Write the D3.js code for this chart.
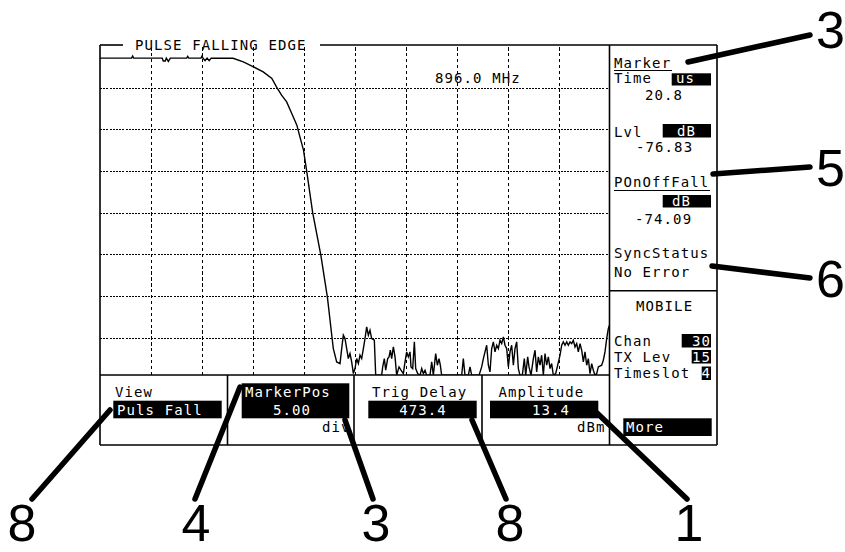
<!DOCTYPE html>
<html>
<head>
<meta charset="utf-8">
<script src="https://cdn.jsdelivr.net/npm/d3@7"></script>
<style>
  html, body { margin: 0; padding: 0; background: #fff; }
  svg { display: block; }
  .mono { font-family: "DejaVu Sans Mono", monospace; font-size: 14px; letter-spacing: 1.1px; }
  .callout { font-family: "Liberation Sans", Arial, sans-serif; font-size: 52px; }
</style>
</head>
<body>
<svg id="chart" width="845" height="552"></svg>
<script>
// ---------------- DATA ----------------
const titleText = "PULSE FALLING EDGE";
const frequencyText = "896.0 MHz";
const gridXDivs = [1, 2, 3, 4, 5, 6, 7, 8, 9];          // time divisions
const gridYLevels = [-10, -20, -30, -40, -50, -60, -70];  // dB
// falling edge of pulse : [division, dB]
const edgeTrace = [
  [0, -2.9], [0.4, -2.9], [0.62, -2.9], [0.64, -2.4], [0.66, -2.9], [1.22, -2.9], [1.24, -3.6], [1.28, -3.6],
  [1.3, -2.9], [1.34, -3.7], [1.38, -2.9], [1.5, -2.9], [1.7, -2.9], [1.72, -2.5], [1.74, -2.9], [1.98, -2.9],
  [2.0, -2.4], [2.02, -2.9], [2.06, -3.5], [2.1, -2.9], [2.14, -3.5], [2.18, -2.9], [2.61, -2.95],
  [2.81, -3.8], [3.01, -5.0], [3.2, -6.2], [3.37, -7.8], [3.46, -9.8], [3.56, -11.8], [3.66, -13.4],
  [3.76, -16.2], [3.86, -19.0], [3.92, -21.8], [3.99, -25.0], [4.05, -29.8], [4.17, -40.0], [4.33, -50.2],
  [4.46, -60.4], [4.55, -70.0], [4.575, -72.6]
];
// noise floor after the edge : [division, dB]
const noiseTrace = [
  [4.641, -75.8], [4.706, -76.2], [4.739, -72.6], [4.771, -69.4], [4.804, -70.2], [4.837, -72.6], [4.869, -75.0],
  [4.902, -73.8], [4.935, -75.8], [4.968, -78.6], [5.0, -77.4], [5.033, -75.0], [5.066, -76.2], [5.098, -74.2],
  [5.131, -75.0], [5.164, -72.6], [5.196, -70.2], [5.229, -67.4], [5.262, -69.4], [5.294, -68.2], [5.327, -70.2],
  [5.379, -70.6], [5.406, -79.0], [5.523, -79.0], [5.543, -77.0], [5.575, -75.0], [5.602, -77.8], [5.641, -75.0],
  [5.667, -74.6], [5.693, -73.0], [5.719, -75.0], [5.752, -72.2], [5.785, -74.6], [5.817, -79.0], [5.863, -77.0],
  [5.902, -77.8], [5.948, -78.6], [5.981, -75.8], [6.013, -73.4], [6.046, -74.6], [6.079, -73.4], [6.098, -77.0],
  [6.131, -77.4], [6.164, -71.0], [6.19, -77.4], [6.229, -78.6], [6.275, -79.0], [6.308, -77.4], [6.34, -78.6],
  [6.373, -77.8], [6.405, -79.0], [6.471, -79.0], [6.504, -75.8], [6.536, -79.0], [6.582, -73.8], [6.615, -76.6],
  [6.647, -75.0], [6.673, -76.6], [6.699, -79.0], [7.092, -79.0], [7.124, -75.0], [7.157, -79.0], [7.222, -79.0],
  [7.255, -77.0], [7.288, -79.0], [7.432, -79.0], [7.484, -77.0], [7.517, -75.0], [7.549, -73.4], [7.582, -71.8],
  [7.615, -76.6], [7.647, -78.2], [7.68, -72.6], [7.713, -71.0], [7.745, -73.4], [7.778, -71.8], [7.811, -72.6],
  [7.843, -70.6], [7.876, -71.4], [7.909, -69.8], [7.941, -71.8], [7.974, -72.6], [8.007, -77.0], [8.039, -73.4],
  [8.072, -71.8], [8.105, -76.6], [8.137, -72.6], [8.17, -71.0], [8.203, -77.4], [8.235, -79.0], [8.281, -79.0],
  [8.32, -75.0], [8.347, -79.0], [8.386, -74.6], [8.412, -77.0], [8.451, -79.0], [8.497, -75.0], [8.53, -73.0],
  [8.562, -78.2], [8.595, -74.6], [8.628, -76.6], [8.66, -74.2], [8.693, -79.0], [8.726, -73.8], [8.758, -76.6],
  [8.791, -74.6], [8.824, -77.4], [8.856, -76.2], [8.889, -79.0], [8.935, -78.6], [8.974, -76.6], [9.02, -74.2],
  [9.053, -71.8], [9.085, -71.0], [9.118, -71.8], [9.151, -71.0], [9.183, -71.8], [9.216, -71.0], [9.249, -71.4],
  [9.281, -70.6], [9.314, -72.2], [9.347, -71.4], [9.379, -73.4], [9.412, -71.4], [9.445, -73.0], [9.477, -75.8],
  [9.51, -73.4], [9.543, -76.6], [9.575, -75.0], [9.608, -78.6], [9.641, -76.2], [9.673, -77.8], [9.706, -79.0],
  [9.739, -78.6], [9.771, -77.0], [9.837, -76.6], [9.869, -75.4], [9.902, -73.4], [9.935, -70.2], [9.967, -67.8],
  [9.99, -67.0]
];
const markerDiv = 5.00;
const markerLevel = -76.83;
const markerTimeText = "20.8";
const markerLevelText = "-76.83";
const pOnOffFallText = "-74.09";
const softkeyLabels = ["View", "MarkerPos", "Trig Delay", "Amplitude"];
const softkeyValues = ["Puls Fall", "5.00", "473.4", "13.4"];
const softkeyUnits = ["", "div", "", "dBm"];
const mobileLabels = ["Chan", "TX Lev", "Timeslot"];
const mobileValues = ["30", "15", "4"];
const calloutLabels = ["3", "5", "6", "8", "4", "3", "8", "1"];

// ---------------- LAYOUT ----------------
const svg = d3.select("#chart");
const L = 100, R = 609.5, T = 45, B = 375, PR = 717, SB = 445;
const x = d3.scaleLinear().domain([0, 10]).range([100, 610]);
const y = d3.scaleLinear().domain([0, -80]).range([46, 379.4]);

svg.append("defs").append("clipPath").attr("id", "plotclip")
  .append("rect").attr("x", L).attr("y", T).attr("width", R - L).attr("height", B - T);

// grid via axes
const gx = svg.append("g").attr("transform", `translate(0,${B})`)
  .call(d3.axisBottom(x).tickValues(gridXDivs).tickSize(-(B - T)).tickFormat(""));
gx.select(".domain").remove();
gx.selectAll(".tick line").attr("stroke", "#000").attr("stroke-width", 1)
  .attr("stroke-dasharray", "3.3,2.6").attr("shape-rendering", "crispEdges");

const gy = svg.append("g").attr("transform", `translate(${L},0)`)
  .call(d3.axisLeft(y).tickValues(gridYLevels).tickSize(-(R - L)).tickFormat(""));
gy.select(".domain").remove();
gy.selectAll(".tick line").attr("stroke", "#000").attr("stroke-width", 1)
  .attr("stroke-dasharray", "2,1.2").attr("shape-rendering", "crispEdges");

// trace
const line = d3.line().x(d => x(d[0])).y(d => y(d[1]));
svg.append("path").attr("clip-path", "url(#plotclip)")
  .datum(edgeTrace.concat(noiseTrace))
  .attr("d", line).attr("fill", "none").attr("stroke", "#000").attr("stroke-width", 1.4)
  .attr("stroke-linejoin", "miter");

// marker
svg.append("path").attr("clip-path", "url(#plotclip)")
  .attr("d", d3.symbol(d3.symbolDiamond, 22)())
  .attr("transform", `translate(${x(markerDiv)},${y(markerLevel) + 4})`)
  .attr("fill", "#000");

// frames
const frame = svg.append("g").attr("stroke", "#000").attr("stroke-width", 1.6).attr("fill", "none");
const seg = (x1, y1, x2, y2) => frame.append("line").attr("x1", x1).attr("y1", y1).attr("x2", x2).attr("y2", y2);
seg(L, T, L, SB);
seg(L, SB, PR, SB);
seg(PR, T, PR, SB);
seg(L, T, 123, T);
seg(320, T, PR, T);
seg(R, T, R, SB);
seg(L, B, R, B);
seg(227.5, B, 227.5, SB);
seg(354, B, 354, SB);
seg(482, B, 482, SB);
seg(R, 290.7, PR, 290.7);

// text helpers
const txt = (s, tx, ty, opts = {}) => svg.append("text").attr("class", "mono")
  .attr("x", tx).attr("y", ty).attr("fill", opts.fill || "#000")
  .attr("text-anchor", opts.anchor || "start").text(s);
const box = (x1, y1, x2, y2) => svg.append("rect").attr("x", x1).attr("y", y1)
  .attr("width", x2 - x1).attr("height", y2 - y1).attr("fill", "#000");

txt(titleText, 135, 49.5);
txt(frequencyText, 435, 83);

// right panel
txt("Marker", 614, 67.5);
svg.append("line").attr("x1", 614).attr("x2", 672).attr("y1", 70.5).attr("y2", 70.5).attr("stroke", "#000").attr("stroke-width", 1.2);
txt("Time", 614, 83);
box(671.7, 73.3, 711, 85.5); txt("us", 676, 83, { fill: "#fff" });
txt(markerTimeText, 645, 100);
txt("Lvl", 614, 136.5);
box(662.7, 124, 711, 137.5); txt("dB", 677, 135.5, { fill: "#fff" });
txt(markerLevelText, 636, 151.5);
txt("POnOffFall", 614, 186.5);
svg.append("line").attr("x1", 614).attr("x2", 710).attr("y1", 190.5).attr("y2", 190.5).attr("stroke", "#000").attr("stroke-width", 1.2);
box(662.7, 195, 711, 207.5); txt("dB", 672, 205.5, { fill: "#fff" });
txt(pOnOffFallText, 635, 223.5);
txt("SyncStatus", 614, 258);
txt("No Error", 614, 276.5);
txt("MOBILE", 636, 311);
const mobBase = [345.5, 361.5, 378];
const mobBox = [[681.7, 334], [691.7, 350], [701.7, 366.5]];
mobileLabels.forEach((s, i) => {
  txt(s, 614, mobBase[i]);
  box(mobBox[i][0], mobBox[i][1], 711, mobBox[i][1] + 13.5);
  txt(mobileValues[i], 711, mobBase[i], { fill: "#fff", anchor: "end" });
});
box(623.3, 418.3, 711.7, 436); txt("More", 626, 432, { fill: "#fff" });

// softkeys
txt(softkeyLabels[0], 115, 396.5);
box(113.3, 400.7, 221.7, 418.3); txt(softkeyValues[0], 117, 414.5, { fill: "#fff" });
box(241.7, 383.3, 349.3, 418.3);
txt(softkeyLabels[1], 245, 396.5, { fill: "#fff" });
txt(softkeyValues[1], 292, 414.5, { fill: "#fff", anchor: "middle" });
txt(softkeyUnits[1], 322, 431.5);
txt(softkeyLabels[2], 372, 396.5);
box(368.3, 400.7, 476.7, 418.3); txt(softkeyValues[2], 423, 414.5, { fill: "#fff", anchor: "middle" });
txt(softkeyLabels[3], 498.5, 396.5);
box(490, 400.7, 598.3, 418.3); txt(softkeyValues[3], 551, 414.5, { fill: "#fff", anchor: "middle" });
txt(softkeyUnits[3], 577, 431.5);

// callouts
const calloutLines = [
  [688, 62, 810, 35], [713, 174, 810, 167], [712, 266, 810, 278],
  [110, 410, 32, 499], [240, 387, 195, 499], [345, 420, 373, 499], [472, 420, 506, 499], [597, 413, 687, 499]
];
const calloutPos = [
  [845, 47.5, "end"], [845, 186, "end"], [845, 297, "end"],
  [22, 540.5, "middle"], [196, 540.5, "middle"], [376, 540.5, "middle"], [510, 540.5, "middle"], [689, 540.5, "middle"]
];
calloutLines.forEach(c => svg.append("line").attr("x1", c[0]).attr("y1", c[1]).attr("x2", c[2]).attr("y2", c[3])
  .attr("stroke", "#000").attr("stroke-width", 5.5).attr("stroke-linecap", "round"));
calloutLabels.forEach((s, i) => svg.append("text").attr("class", "callout")
  .attr("x", calloutPos[i][0]).attr("y", calloutPos[i][1]).attr("text-anchor", calloutPos[i][2]).text(s));
</script>
</body>
</html>
